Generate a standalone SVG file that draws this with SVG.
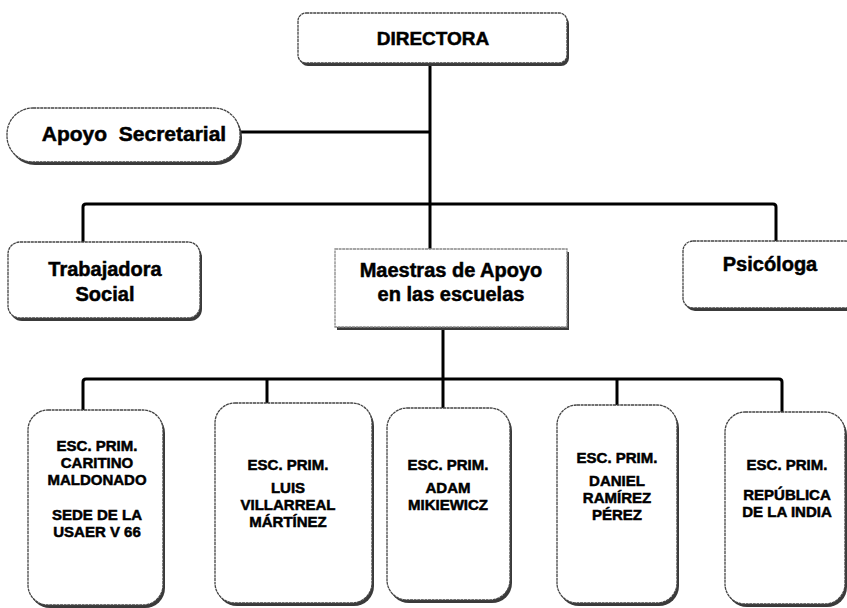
<svg xmlns="http://www.w3.org/2000/svg" width="847" height="608" viewBox="0 0 847 608">
<style>
.box{fill:#fff;stroke:#444;stroke-width:1.3;stroke-dasharray:3 0.6}
.sh{fill:#3a3a3a}
.t{font-family:"Liberation Sans",Arial,sans-serif;font-weight:bold;fill:#000;stroke:#000;stroke-width:0.5;text-anchor:middle}
.big{font-size:20px}
.sm{font-size:15px}
.ln{fill:none;stroke:#000;stroke-width:3;stroke-linejoin:round}
</style>
<rect width="847" height="608" fill="#fff"/>
<g id="connectors">
<path class="ln" d="M430 63 V204"/>
<path class="ln" d="M240 132 H430"/>
<path class="ln" d="M83 242 V207 Q83 204 86 204 H773 Q776 204 776 207 V241"/>
<path class="ln" d="M430 204 V249"/>
<path class="ln" d="M443 327 V408"/>
<path class="ln" d="M83 410 V382 Q83 379 86 379 H779 Q782 379 782 382 V412"/>
<path class="ln" d="M267 379 V403"/>
<path class="ln" d="M617 379 V405"/>
</g>
<g id="directora">
<rect class="sh" x="300" y="16" width="269" height="50" rx="8"/>
<rect class="box" x="298" y="13" width="269" height="50" rx="8"/>
<text class="t" x="433" y="45" style="font-size:19px">DIRECTORA</text>
</g>
<g id="apoyo">
<rect class="sh" x="9" y="111" width="233" height="54" rx="26"/>
<rect class="box" x="7" y="108" width="233" height="54" rx="26"/>
<text class="t" x="134" y="141" style="font-size:21px;white-space:pre" xml:space="preserve">Apoyo  Secretarial</text>
</g>
<g id="trabajadora">
<rect class="sh" x="10" y="245" width="192" height="76" rx="12"/>
<rect class="box" x="8" y="242" width="192" height="76" rx="12"/>
<text class="t big" x="105" y="276">Trabajadora</text>
<text class="t big" x="105" y="301">Social</text>
</g>
<g id="maestras">
<rect class="sh" x="337" y="252" width="232" height="78"/>
<rect class="box" x="335" y="249" width="232" height="78" style="stroke:#888"/>
<text class="t big" x="451" y="277">Maestras de Apoyo</text>
<text class="t big" x="451" y="301">en las escuelas</text>
</g>
<g id="psicologa">
<rect class="sh" x="685" y="244" width="172" height="67" rx="10"/>
<rect class="box" x="683" y="241" width="172" height="67" rx="10"/>
<text class="t big" x="770" y="271">Psicóloga</text>
</g>
<g id="esc1">
<rect class="sh" x="30" y="413" width="135" height="195" rx="20"/>
<rect class="box" x="28" y="410" width="135" height="195" rx="20"/>
<text class="t sm" x="97" y="451">ESC. PRIM.</text>
<text class="t sm" x="97" y="468">CARITINO</text>
<text class="t sm" x="97" y="485">MALDONADO</text>
<text class="t sm" x="97" y="520">SEDE DE LA</text>
<text class="t sm" x="97" y="537">USAER V 66</text>
</g>
<g id="esc2">
<rect class="sh" x="217" y="406" width="157" height="200" rx="20"/>
<rect class="box" x="215" y="403" width="157" height="200" rx="20"/>
<text class="t sm" x="288" y="470">ESC. PRIM.</text>
<text class="t sm" x="288" y="493">LUIS</text>
<text class="t sm" x="288" y="510">VILLARREAL</text>
<text class="t sm" x="288" y="527">MÁRTÍNEZ</text>
</g>
<g id="esc3">
<rect class="sh" x="389" y="411" width="123" height="192" rx="20"/>
<rect class="box" x="387" y="408" width="123" height="192" rx="20"/>
<text class="t sm" x="448" y="470">ESC. PRIM.</text>
<text class="t sm" x="448" y="493">ADAM</text>
<text class="t sm" x="448" y="510">MIKIEWICZ</text>
</g>
<g id="esc4">
<rect class="sh" x="559" y="408" width="120" height="198" rx="20"/>
<rect class="box" x="557" y="405" width="120" height="198" rx="20"/>
<text class="t sm" x="617" y="463">ESC. PRIM.</text>
<text class="t sm" x="617" y="486">DANIEL</text>
<text class="t sm" x="617" y="503">RAMÍREZ</text>
<text class="t sm" x="617" y="520">PÉREZ</text>
</g>
<g id="esc5">
<rect class="sh" x="727" y="415" width="120" height="192" rx="20"/>
<rect class="box" x="725" y="412" width="120" height="192" rx="20"/>
<text class="t sm" x="787" y="470">ESC. PRIM.</text>
<text class="t sm" x="787" y="500">REPÚBLICA</text>
<text class="t sm" x="787" y="517">DE LA INDIA</text>
</g>
</svg>
